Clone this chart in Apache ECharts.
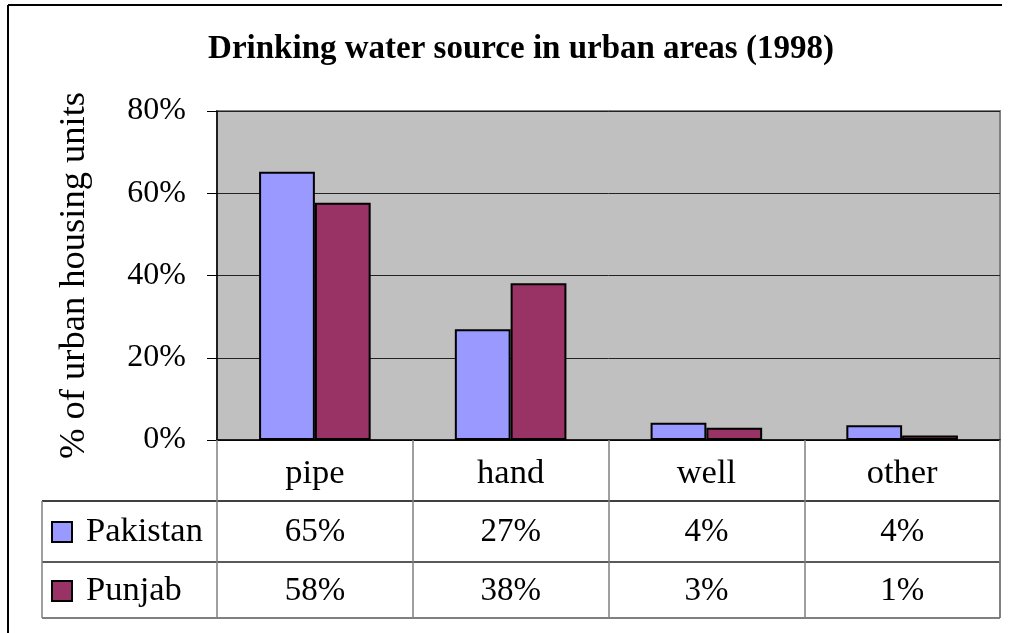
<!DOCTYPE html>
<html>
<head>
<meta charset="utf-8">
<script src="https://cdn.jsdelivr.net/npm/echarts@6/dist/echarts.min.js"></script>
<style>html,body{margin:0;padding:0;background:#fff}#c{width:1011px;height:633px}</style>
</head>
<body>
<div id="c"></div>
<script>
const titleText = 'Drinking water source in urban areas (1998)';
const yAxisName = '% of urban housing units';
const categories = ['pipe', 'hand', 'well', 'other'];
const seriesNames = ['Pakistan', 'Punjab'];
const pakistan = [65.2, 26.9, 4.2, 3.6];
const punjab = [57.7, 38.1, 3.0, 1.1];
const yTicks = [0, 20, 40, 60, 80];

const FONT = '"Liberation Serif", "Times New Roman", serif';
const colors = ['#9999FF', '#993366'];

const chart = echarts.init(document.getElementById('c'), null, {renderer: 'canvas'});
const option = {
  animation: false,
  backgroundColor: '#fff',
  textStyle: {fontFamily: FONT},
  title: {
    text: titleText, left: 516, top: 28, textAlign: 'center',
    textStyle: {fontFamily: FONT, fontWeight: 'bold', fontSize: 33, color: '#000'}
  },
  grid: {
    left: 217, top: 111, right: 11, bottom: 193,
    show: true, backgroundColor: '#C0C0C0', borderColor: '#808080', borderWidth: 2
  },
  xAxis: {
    type: 'category', data: categories, boundaryGap: true,
    axisLine: {lineStyle: {color: '#000', width: 1.5}},
    axisTick: {show: true, length: 178, interval: 0, lineStyle: {color: '#808080', width: 1.5}},
    axisLabel: {fontFamily: FONT, fontSize: 34.5, color: '#000', margin: 16, interval: 0}
  },
  yAxis: {
    type: 'value', min: 0, max: 80, interval: 20,
    name: yAxisName, nameLocation: 'middle', nameRotate: 90, nameGap: 124,
    nameTextStyle: {fontFamily: FONT, fontSize: 36.5, color: '#000'},
    axisLine: {show: true, lineStyle: {color: '#000', width: 1.5}},
    axisTick: {show: true, length: 10, lineStyle: {color: '#000'}},
    axisLabel: {fontFamily: FONT, fontSize: 32, color: '#000', margin: 31,
      formatter: v => yTicks.includes(v) ? v + '%' : ''},
    splitLine: {show: true, lineStyle: {color: '#222', width: 1}}
  },
  series: [
    {name: seriesNames[0], type: 'bar', data: pakistan, barGap: '0%', barCategoryGap: '43%',
     itemStyle: {color: colors[0], borderColor: '#000', borderWidth: 2}},
    {name: seriesNames[1], type: 'bar', data: punjab, barGap: '0%', barCategoryGap: '43%',
     itemStyle: {color: colors[1], borderColor: '#000', borderWidth: 2}}
  ]
};
chart.setOption(option);

// Data table below the axis
const xs = categories.map((c) => chart.convertToPixel({xAxisIndex: 0}, c));
const y0 = chart.convertToPixel({yAxisIndex: 0}, 0);
const rightX = 1000, tableLeft = 42;
const rowTop = [501, 562], rowBottom = 618;
const rowCenter = [532, 591];
const elements = [];
// outer chart border (top & left)
elements.push({type: 'line', shape: {x1: 8, y1: 5, x2: 1002, y2: 5}, style: {stroke: '#000', lineWidth: 2}});
elements.push({type: 'line', shape: {x1: 8, y1: 5, x2: 8, y2: 633}, style: {stroke: '#000', lineWidth: 2}});
// table lines
elements.push({type: 'line', shape: {x1: tableLeft, y1: rowTop[0], x2: rightX, y2: rowTop[0]}, style: {stroke: '#000', lineWidth: 1.5}});
elements.push({type: 'line', shape: {x1: tableLeft, y1: rowTop[1], x2: rightX, y2: rowTop[1]}, style: {stroke: '#222', lineWidth: 1.5}});
elements.push({type: 'line', shape: {x1: tableLeft, y1: rowBottom, x2: rightX, y2: rowBottom}, style: {stroke: '#808080', lineWidth: 2}});
elements.push({type: 'line', shape: {x1: tableLeft, y1: rowTop[0], x2: tableLeft, y2: rowBottom}, style: {stroke: '#808080', lineWidth: 1.5}});
elements.push({type: 'line', shape: {x1: rightX, y1: y0, x2: rightX, y2: rowBottom}, style: {stroke: '#555', lineWidth: 1.5}});
const rows = [pakistan, punjab];
rows.forEach((vals, r) => {
  const cy = rowCenter[r];
  elements.push({type: 'rect', shape: {x: 52, y: cy - 10, width: 20, height: 20},
    style: {fill: colors[r], stroke: '#000', lineWidth: 2}});
  elements.push({type: 'text', x: 86, y: cy, style: {text: seriesNames[r], font: '34.5px ' + FONT,
    fill: '#000', textAlign: 'left', textVerticalAlign: 'middle'}});
  vals.forEach((v, i) => {
    elements.push({type: 'text', x: xs[i], y: cy, style: {text: Math.round(v) + '%', font: '33px ' + FONT,
      fill: '#000', textAlign: 'center', textVerticalAlign: 'middle'}});
  });
});
chart.setOption({graphic: {elements}});
</script>
</body>
</html>
